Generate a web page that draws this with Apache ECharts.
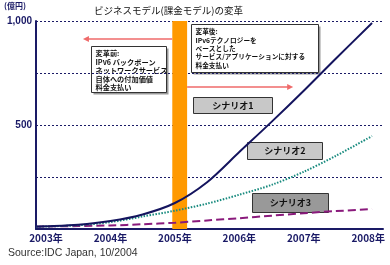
<!DOCTYPE html>
<html>
<head>
<meta charset="utf-8">
<script src="https://cdn.jsdelivr.net/npm/echarts@6/dist/echarts.min.js"></script>
<style>
html, body { margin: 0; padding: 0; background: #fff; }
#main { width: 390px; height: 265px; }
</style>
</head>
<body>
<div id="main"></div>
<script>
// 年 (x 軸は数値軸)
var years = [2002.85, 2003, 2003.5, 2004, 2004.5, 2005, 2005.5, 2006, 2006.5, 2007, 2007.5, 2008.06];
var yearLabels = [2003, 2004, 2005, 2006, 2007, 2008];
var scenario1 = [12, 13, 20, 38, 70, 125, 225, 370, 515, 665, 820, 990];
var scenario2 = [11, 12, 18, 33, 60, 88, 122, 165, 212, 275, 352, 447];
var scenario3 = [11, 12, 14, 17, 23, 30, 41, 52, 64, 76, 86, 96];
var yTicks = [0, 250, 500, 750, 1000];
// 変革の時期 (オレンジ帯)
var changeBand = [2004.96, 2005.19];
var arrowLeft = [2004.96, 2003.62, 913];
var arrowRight = [2005.19, 2006.79, 683];

var navy = '#1a1a66';
var font = '"Noto Sans CJK JP", sans-serif';

function pairs(ys) {
	return years.map(function(x, i) { return [x, ys[i]]; });
}

function labelBox(x, y, w, h, fill, text) {
	return {
		type: 'group', left: x, top: y,
		children: [
			{ type: 'rect', shape: { x: 0, y: 0, width: w, height: h },
			  style: { fill: fill, stroke: '#333', lineWidth: 1 } },
			{ type: 'text', x: w / 2, y: h / 2,
			  style: { text: text, fill: '#111', font: 'bold 9px ' + font, align: 'center', verticalAlign: 'middle' } }
		]
	};
}

function noteBox(x, y, w, h, size, lines) {
	return {
		type: 'group', left: x, top: y,
		children: [
			{ type: 'rect', shape: { x: 2, y: 2, width: w, height: h }, style: { fill: '#999' } },
			{ type: 'rect', shape: { x: 0, y: 0, width: w, height: h },
			  style: { fill: '#fff', stroke: '#333', lineWidth: 1 } },
			{ type: 'text', x: 4, y: 3,
			  style: { text: lines.join('\n'), fill: '#111', font: 'bold ' + size + 'px ' + font, lineHeight: 8.4 } }
		]
	};
}

var myChart = echarts.init(document.getElementById('main'));
var option = {
	animation: false,
	grid: { left: 36, right: 7, top: 21, bottom: 36 },
	xAxis: {
		type: 'value', min: 2002.845, max: 2008.23,
		axisLine: { show: true, lineStyle: { color: navy, width: 2 } },
		axisTick: { show: false },
		splitLine: { show: false },
		axisLabel: {
			customValues: yearLabels,
			formatter: function(v) { return v + '年'; },
			color: navy, fontWeight: 'bold', fontSize: 10, fontFamily: font, margin: 4
		}
	},
	yAxis: {
		type: 'value', min: 0, max: 1000, interval: 250,
		axisLine: { show: true, lineStyle: { color: navy, width: 2 } },
		axisTick: { show: false },
		splitLine: { lineStyle: { color: navy, type: [2, 2], width: 1 } },
		axisLabel: {
			customValues: yTicks,
			formatter: function(v) { return v === 1000 ? '1,000' : (v === 500 ? '500' : ''); },
			color: navy, fontWeight: 'bold', fontSize: 10, fontFamily: 'Liberation Sans, Arial', margin: 4
		}
	},
	series: [
		{
			name: 'シナリオ1', type: 'line', data: pairs(scenario1), smooth: 0.3, showSymbol: false, z: 5,
			lineStyle: { color: '#14145e', width: 2 },
			markArea: {
				silent: true,
				itemStyle: { color: '#ff9900' },
				data: [[{ xAxis: changeBand[0] }, { xAxis: changeBand[1] }]]
			},
			markLine: {
				silent: true, symbol: ['none', 'triangle'], symbolSize: [6, 6],
				label: { show: false },
				lineStyle: { color: '#ef6a6a', width: 1.5, type: 'solid' },
				data: [
					[{ coord: [arrowLeft[0], arrowLeft[2]] }, { coord: [arrowLeft[1], arrowLeft[2]] }],
					[{ coord: [arrowRight[0], arrowRight[2]] }, { coord: [arrowRight[1], arrowRight[2]] }]
				]
			}
		},
		{
			name: 'シナリオ2', type: 'line', data: pairs(scenario2), smooth: 0.3, showSymbol: false, z: 4,
			lineStyle: { color: '#178a7e', width: 2, type: [1.5, 1.5] }
		},
		{
			name: 'シナリオ3', type: 'line', data: pairs(scenario3), smooth: 0.3, showSymbol: false, z: 3,
			lineStyle: { color: '#8a1a7c', width: 2, type: [8, 4] }
		}
	],
	graphic: [
		{ type: 'text', left: 94, top: 6,
		  style: { text: 'ビジネスモデル(課金モデル)の変革', fill: '#111', font: '9.5px ' + font } },
		{ type: 'text', left: 4, top: 2,
		  style: { text: '(億円)', fill: navy, font: 'bold 8px ' + font } },
		noteBox(91, 46, 75, 46, 7.2, ['変革前:', 'IPv6 バックボーン', 'ネットワークサービス', '自体への付加価値', '料金支払い']),
		noteBox(191, 24, 127, 48, 6.7, ['変革後:', 'IPv6テクノロジーを', 'ベースとした', 'サービス/アプリケーションに対する', '料金支払い']),
		labelBox(193, 97, 79, 16, '#c8c8c8', 'シナリオ1'),
		labelBox(247, 142, 75, 17, '#c8c8c8', 'シナリオ2'),
		labelBox(252, 193, 76, 19, '#999999', 'シナリオ3'),
		{ type: 'text', left: 8, top: 248,
		  style: { text: 'Source:IDC Japan, 10/2004', fill: '#333', font: '10.5px "Liberation Sans", Arial' } }
	]
};
myChart.setOption(option);
</script>
</body>
</html>
